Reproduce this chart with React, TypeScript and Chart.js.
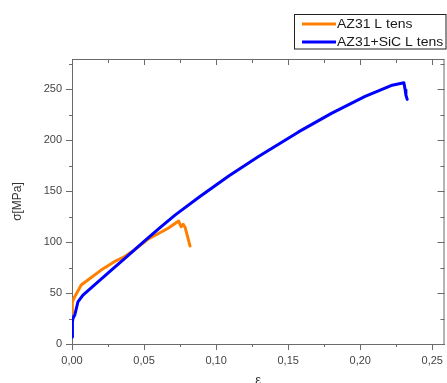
import { useEffect, useRef } from 'react';
import { Chart, registerables } from 'chart.js';

Chart.register(...registerables);

const seriesLabels = ['AZ31 L tens', 'AZ31+SiC L tens'];
const seriesColors = ['rgb(255,128,0)', 'rgb(0,0,255)'];

const az31Strain = [0, 0.0002, 0.0019, 0.0064, 0.011, 0.0202, 0.0294, 0.0363, 0.0432, 0.0524, 0.0667, 0.074, 0.0757, 0.0772, 0.0786, 0.0802, 0.0819];
const az31Stress = [30.4, 41.2, 46.4, 57.8, 62.7, 72.5, 80.7, 85.6, 92.2, 102.5, 113.5, 120.6, 115, 117.4, 114, 105.2, 96.1];

const sicStrain = [0, 0.0003, 0.0007, 0.0019, 0.0041, 0.0076, 0.0133, 0.0202, 0.0271, 0.0363, 0.0455, 0.0524, 0.0621, 0.0717, 0.0883, 0.109, 0.1297, 0.1572, 0.18, 0.2034, 0.2214, 0.2262, 0.2303, 0.2312, 0.2317, 0.2326];
const sicStress = [6.9, 21.6, 25.2, 28.4, 41.2, 48, 55.1, 63.7, 72.2, 83.6, 95, 103.5, 115.3, 126.6, 144.1, 165, 184.1, 208, 226.2, 242.8, 253.5, 254.9, 256.2, 249, 244.1, 239.9];

const xMajorTicks = [0, 0.05, 0.1, 0.15, 0.2, 0.25];
const xMinorTicks = [0.025, 0.075, 0.125, 0.175, 0.225];
const yMajorTicks = [0, 50, 100, 150, 200, 250];
const yMinorTicks = [25, 75, 125, 175, 225, 275];

const X_MIN = 0;
const X_MAX = 0.2585;
const Y_MIN = 0;
const Y_MAX = 279.5;

const AXIS_COLOR = '#6a6a6a';
const TEXT_COLOR = '#444';
const FONT = "'Liberation Sans', Arial, sans-serif";

const framePlugin = {
  id: 'frameAndLegend',
  afterDraw(chart: any) {
    const { ctx, chartArea: a, scales } = chart;
    const xs = scales.x;
    const ys = scales.y;
    ctx.save();
    ctx.strokeStyle = AXIS_COLOR;
    ctx.lineWidth = 1;
    ctx.beginPath();
    ctx.moveTo(a.left, a.top + 0.5);
    ctx.lineTo(a.right, a.top + 0.5);
    ctx.moveTo(a.right - 0.5, a.top);
    ctx.lineTo(a.right - 0.5, a.bottom);
    xMinorTicks.forEach((v) => {
      const px = Math.round(xs.getPixelForValue(v)) + 0.5;
      ctx.moveTo(px, a.bottom);
      ctx.lineTo(px, a.bottom + 3);
      ctx.moveTo(px, a.top);
      ctx.lineTo(px, a.top + 4);
    });
    xMajorTicks.forEach((v) => {
      const px = Math.round(xs.getPixelForValue(v)) + 0.5;
      ctx.moveTo(px, a.top);
      ctx.lineTo(px, a.top + 6);
    });
    yMinorTicks.forEach((v) => {
      const py = Math.round(ys.getPixelForValue(v)) + 0.5;
      ctx.moveTo(a.left, py);
      ctx.lineTo(a.left - 3, py);
      ctx.moveTo(a.right, py);
      ctx.lineTo(a.right - 4, py);
    });
    yMajorTicks.forEach((v) => {
      const py = Math.round(ys.getPixelForValue(v)) + 0.5;
      ctx.moveTo(a.right, py);
      ctx.lineTo(a.right - 7, py);
    });
    ctx.stroke();

    const bx = 294.5, by = 14.5, bw = 151.5, bh = 34.5;
    ctx.fillStyle = '#fff';
    ctx.fillRect(bx, by, bw, bh);
    ctx.strokeStyle = '#222';
    ctx.strokeRect(bx, by, bw, bh);
    const rowsY = [24, 42];
    chart.data.datasets.forEach((ds: any, i: number) => {
      const yy = rowsY[i];
      ctx.strokeStyle = ds.borderColor;
      ctx.lineWidth = 3;
      ctx.beginPath();
      ctx.moveTo(302, yy);
      ctx.lineTo(336, yy);
      ctx.stroke();
      ctx.save();
      ctx.translate(337, yy);
      ctx.scale(1.12, 1);
      ctx.fillStyle = '#1a1a1a';
      ctx.font = `12.5px ${FONT}`;
      ctx.textBaseline = 'middle';
      ctx.textAlign = 'left';
      ctx.fillText(ds.label, 0, 0.5);
      ctx.restore();
    });
    ctx.restore();
  },
};

export default function App() {
  const ref = useRef<HTMLCanvasElement | null>(null);
  useEffect(() => {
    document.body.style.margin = '0';
    const canvas = ref.current;
    if (!canvas) return;
    const chart = new Chart(canvas, {
      type: 'line',
      data: {
        datasets: [
          {
            label: seriesLabels[0],
            data: az31Strain.map((x, i) => ({ x, y: az31Stress[i] })),
            borderColor: seriesColors[0],
            backgroundColor: seriesColors[0],
            borderWidth: 3,
            pointRadius: 0,
            tension: 0,
            order: 1,
            borderJoinStyle: 'round',
            borderCapStyle: 'round',
          },
          {
            label: seriesLabels[1],
            data: sicStrain.map((x, i) => ({ x, y: sicStress[i] })),
            borderColor: seriesColors[1],
            backgroundColor: seriesColors[1],
            borderWidth: 3,
            pointRadius: 0,
            tension: 0,
            order: 0,
            borderJoinStyle: 'round',
            borderCapStyle: 'round',
          },
        ],
      },
      options: {
        responsive: false,
        animation: false,
        layout: { padding: { top: 59, right: 0.5, left: 0, bottom: 0 } },
        plugins: { legend: { display: false }, tooltip: { enabled: false } },
        scales: {
          x: {
            type: 'linear',
            min: X_MIN,
            max: X_MAX,
            afterBuildTicks: (s: any) => {
              s.ticks = xMajorTicks.map((v) => ({ value: v }));
            },
            afterFit: (s: any) => {
              s.height = 39;
            },
            grid: { drawOnChartArea: false, drawTicks: true, tickLength: 6, color: AXIS_COLOR },
            border: { display: true, color: AXIS_COLOR, width: 1 },
            ticks: {
              padding: 4,
              autoSkip: false,
              maxRotation: 0,
              color: TEXT_COLOR,
              font: { family: FONT, size: 11 },
              callback: (v: any) => Number(v).toFixed(2).replace('.', ','),
            },
            title: {
              display: true,
              text: 'ε',
              color: '#333',
              font: { family: FONT, size: 13 },
              padding: { top: 0, bottom: -5 },
            },
          },
          y: {
            type: 'linear',
            min: Y_MIN,
            max: Y_MAX,
            afterBuildTicks: (s: any) => {
              s.ticks = yMajorTicks.map((v) => ({ value: v }));
            },
            afterFit: (s: any) => {
              s.width = 72;
            },
            grid: { drawOnChartArea: false, drawTicks: true, tickLength: 6, color: AXIS_COLOR },
            border: { display: true, color: AXIS_COLOR, width: 1 },
            ticks: {
              padding: 4,
              autoSkip: false,
              color: TEXT_COLOR,
              font: { family: FONT, size: 11 },
              callback: (v: any) => String(v),
            },
            title: {
              display: true,
              text: 'σ[MPa]',
              color: '#333',
              font: { family: FONT, size: 12 },
              padding: { top: 10, bottom: 0 },
            },
          },
        },
      },
      plugins: [framePlugin],
    });
    return () => chart.destroy();
  }, []);
  return <canvas ref={ref} width={447} height={383} style={{ display: 'block' }} />;
}
